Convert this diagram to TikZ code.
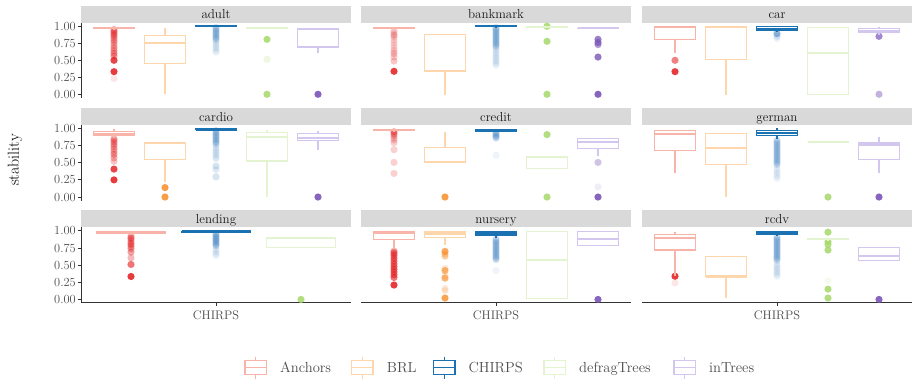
\documentclass[tikz,border=0pt]{standalone}
\usepackage{fontspec}
\definecolor{stripgray}{HTML}{D9D9D9}
\definecolor{axisgray}{HTML}{333333}
\definecolor{ticktext}{HTML}{4D4D4D}
\definecolor{ancBox}{HTML}{F9B4AA}
\definecolor{ancPt}{HTML}{E31A1C}
\definecolor{brlBox}{HTML}{FDD6AB}
\definecolor{brlPt}{HTML}{F7861A}
\definecolor{chiBox}{HTML}{1A72B2}
\definecolor{chiPt}{HTML}{3A7EC0}
\definecolor{dfBox}{HTML}{E4F4D0}
\definecolor{dfPt}{HTML}{A6D96A}
\definecolor{inBox}{HTML}{D3C7F0}
\definecolor{inPt}{HTML}{7B55B8}

% y position of value #2 in facet row #1
\newcommand\yv[2]{{26.03+102.4*#1+68.6*(1-#2)}}
% boxplot: centre x, half width, row, lower whisker, q1, median, q3, upper whisker, style
\newcommand\bx[9]{%
  \draw[#9] (#1,\yv{#3}{#4}) -- (#1,\yv{#3}{#5});
  \draw[#9] (#1,\yv{#3}{#7}) -- (#1,\yv{#3}{#8});
  \draw[#9] (#1-#2,\yv{#3}{#5}) rectangle (#1+#2,\yv{#3}{#7});
  \draw[#9,line width=2.2] (#1-#2,\yv{#3}{#6}) -- (#1+#2,\yv{#3}{#6});}
% outliers: centre x, row, colour, list of value/opacity
\newcommand\pts[4]{\foreach \v/\o in {#4}{\fill[#3,opacity=\o] (#1,\yv{#2}{\v}) circle[radius=3.6];}}
% evenly spaced run of faint outliers
\newcommand\colpts[7]{\foreach \v in {#4,#5,...,#6}{\fill[#3,opacity=#7] (#1,\yv{#2}{\v}) circle[radius=3.6];}}
% legend key
\newcommand\lkey[2]{%
  \draw[#2] (#1,356.5) -- (#1,360.7);
  \draw[#2] (#1,374.7) -- (#1,379);
  \draw[#2] (#1-10.8,360.7) rectangle (#1+10.8,374.7);
  \draw[#2] (#1-10.8,367.7) -- (#1+10.8,367.7);}

\tikzset{
  anc/.style={draw=ancBox,line width=1.1},
  brl/.style={draw=brlBox,line width=1.1},
  chi/.style={draw=chiBox,line width=1.3},
  dft/.style={draw=dfBox,line width=1.1},
  int/.style={draw=inBox,line width=1.1},
  axisline/.style={draw=axisgray,line width=0.9},
  tickline/.style={draw=axisgray,line width=0.8},
  ticklab/.style={text=ticktext,inner sep=0pt,font=\fontsize{12.4}{14}\selectfont},
  striplab/.style={text=black!90,inner sep=0pt,anchor=base,font=\fontsize{13}{15}\selectfont},
  leglab/.style={text=ticktext,inner sep=0pt,anchor=base west,font=\fontsize{14.6}{16}\selectfont},
}

\begin{document}
\begin{tikzpicture}[x=1pt,y=-1pt]
\useasboundingbox (0,0) rectangle (912,380);
\fill[white] (0,0) rectangle (912,380);

% facet strips
\foreach \xl in {81,361,642}{
  \foreach \r in {0,1,2}{
    \fill[stripgray] (\xl,{5.6+102.4*\r}) rectangle ++(270,17);
  }
}
\node[striplab] (s-adult)    at (216,18.6) {adult};
\node[striplab] (s-bankmark) at (496,18.6) {bankmark};
\node[striplab] (s-car)      at (777,18.6) {car};
\node[striplab] (s-cardio)   at (216,121.0) {cardio};
\node[striplab] (s-credit)   at (496,121.0) {credit};
\node[striplab] (s-german)   at (777,121.0) {german};
\node[striplab] (s-lending)  at (216,223.4) {lending};
\node[striplab] (s-nursery)  at (496,223.4) {nursery};
\node[striplab] (s-rcdv)     at (777,223.4) {rcdv};

% y axes on the left column
\foreach \r in {0,1,2}{
  \draw[axisline] (81,{22.6+102.4*\r}) -- (81,{98.1+102.4*\r});
  \foreach \v/\lab in {0/0.00,0.25/0.25,0.5/0.50,0.75/0.75,1/1.00}{
    \draw[tickline] (77.5,\yv{\r}{\v}) -- (81,\yv{\r}{\v});
    \node[ticklab,anchor=east] (yl\r-\lab) at (76,\yv{\r}{\v}) {\lab};
  }
}
\node[rotate=90,inner sep=0pt,font=\fontsize{16}{18}\selectfont] (ytitle) at (15,160) {stability};

% x axes on the bottom row
\foreach \xl/\xc in {81/216,361/496,642/777}{
  \draw[axisline] (\xl,302.9) -- ({\xl+270},302.9);
  \draw[tickline] (\xc,302.9) -- (\xc,306.4);
  \node[ticklab] (xl\xc) at (\xc,315.5) {CHIRPS};
}

% ---- row 0 ----
% adult
\pts{114}{0}{ancPt}{0.95/0.3,0.93/0.3,0.91/0.3,0.89/0.3,0.87/0.3,0.85/0.3,0.82/0.3,0.79/0.3,0.76/0.3,0.72/0.3,0.68/0.35,0.64/0.35,0.6/0.4,0.56/0.4,0.5/0.8,0.335/0.85,0.235/0.1}
\bx{114}{20.5}{0}{0.95}{0.958}{0.972}{0.985}{1.0}{anc}
\bx{165}{20.5}{0}{0.015}{0.452}{0.752}{0.86}{0.97}{brl}
\colpts{216}{0}{chiPt}{0.98}{0.96}{0.8}{0.2}
\colpts{216}{0}{chiPt}{0.77}{0.74}{0.62}{0.1}
\bx{216}{20.5}{0}{0.99}{0.99}{0.996}{1.0}{1.0}{chi}
\pts{267}{0}{dfPt}{0.806/0.85,0.515/0.2,0.005/0.85}
\bx{267}{20.5}{0}{0.97}{0.97}{0.977}{0.985}{0.99}{dft}
\pts{318}{0}{inPt}{0.005/0.9}
\bx{318}{20.5}{0}{0.612}{0.694}{0.962}{0.966}{0.977}{int}
% bankmark
\pts{394}{0}{ancPt}{0.937/0.15,0.91/0.15,0.88/0.15,0.864/0.2,0.84/0.15,0.8/0.15,0.76/0.15,0.72/0.15,0.68/0.15,0.64/0.2,0.597/0.25,0.55/0.2,0.49/0.25,0.34/0.85}
\bx{394}{20.5}{0}{0.965}{0.97}{0.977}{0.985}{0.99}{anc}
\bx{445}{20.5}{0}{0.0}{0.34}{0.34}{0.883}{0.883}{brl}
\colpts{496}{0}{chiPt}{0.98}{0.96}{0.7}{0.2}
\colpts{496}{0}{chiPt}{0.67}{0.64}{0.43}{0.1}
\bx{496}{20.5}{0}{0.99}{0.992}{0.996}{1.0}{1.0}{chi}
\pts{547}{0}{dfPt}{0.997/0.85,0.777/0.85,0.005/0.85}
\bx{547}{20.5}{0}{0.985}{0.985}{0.99}{0.993}{0.995}{dft}
\pts{598}{0}{inPt}{0.806/0.75,0.76/0.75,0.73/0.6,0.548/0.8,0.005/0.9}
\bx{598}{20.5}{0}{0.962}{0.962}{0.966}{0.97}{0.975}{int}
% car
\pts{675}{0}{ancPt}{0.5/0.55,0.335/0.85}
\bx{675}{20.5}{0}{0.607}{0.80}{0.988}{0.995}{0.995}{anc}
\bx{726}{20.5}{0}{0.0}{0.51}{0.985}{0.988}{0.988}{brl}
\pts{777}{0}{chiPt}{0.889/0.55,0.85/0.15,0.82/0.1}
\bx{777}{20.5}{0}{0.92}{0.937}{0.962}{0.993}{1.0}{chi}
\bx{828}{20.5}{0}{0.0}{0.0}{0.612}{0.985}{0.985}{dft}
\pts{879}{0}{inPt}{0.85/0.7,0.005/0.45}
\bx{879}{20.5}{0}{0.87}{0.913}{0.925}{0.968}{0.985}{int}

% ---- row 1 ----
% cardio
\pts{114}{1}{ancPt}{0.85/0.3,0.83/0.3,0.8/0.35,0.77/0.3,0.74/0.3,0.7/0.35,0.66/0.3,0.62/0.4,0.57/0.3,0.52/0.25,0.407/0.8,0.25/0.85}
\bx{114}{20.5}{1}{0.86}{0.903}{0.92}{0.956}{0.99}{anc}
\pts{165}{1}{brlPt}{0.138/0.8,0.0/0.8}
\bx{165}{20.5}{1}{0.22}{0.55}{0.785}{0.79}{0.79}{brl}
\colpts{216}{1}{chiPt}{0.97}{0.95}{0.75}{0.2}
\colpts{216}{1}{chiPt}{0.72}{0.68}{0.52}{0.15}
\pts{216}{1}{chiPt}{0.45/0.2,0.40/0.15,0.294/0.2}
\bx{216}{20.5}{1}{0.975}{0.98}{0.985}{0.995}{1.0}{chi}
\bx{267}{20.5}{1}{0.0}{0.525}{0.88}{0.94}{0.97}{dft}
\pts{318}{1}{inPt}{0.0/0.9}
\bx{318}{20.5}{1}{0.68}{0.83}{0.86}{0.93}{0.96}{int}
% credit
\pts{394}{1}{ancPt}{0.95/0.5,0.917/0.4,0.89/0.2,0.86/0.2,0.83/0.2,0.79/0.2,0.69/0.2,0.505/0.2,0.344/0.2}
\bx{394}{20.5}{1}{0.95}{0.965}{0.975}{0.985}{0.99}{anc}
\pts{445}{1}{brlPt}{0.0/0.8}
\bx{445}{20.5}{1}{0.505}{0.505}{0.51}{0.726}{0.95}{brl}
\colpts{496}{1}{chiPt}{0.94}{0.92}{0.84}{0.25}
\pts{496}{1}{chiPt}{0.61/0.08}
\bx{496}{20.5}{1}{0.95}{0.96}{0.97}{0.975}{0.99}{chi}
\pts{547}{1}{dfPt}{0.91/0.85,0.0/0.85}
\bx{547}{20.5}{1}{0.42}{0.42}{0.578}{0.584}{0.584}{dft}
\pts{598}{1}{inPt}{0.505/0.35,0.147/0.1,0.0/0.9}
\bx{598}{20.5}{1}{0.6}{0.71}{0.80}{0.85}{0.865}{int}
% german
\bx{675}{20.5}{1}{0.344}{0.672}{0.918}{0.975}{0.975}{anc}
\bx{726}{20.5}{1}{0.0}{0.48}{0.71}{0.922}{0.94}{brl}
\colpts{777}{1}{chiPt}{0.83}{0.81}{0.45}{0.18}
\colpts{777}{1}{chiPt}{0.42}{0.39}{0.25}{0.08}
\bx{777}{20.5}{1}{0.85}{0.897}{0.93}{0.966}{1.0}{chi}
\pts{828}{1}{dfPt}{0.0/0.85}
\bx{828}{20.5}{1}{0.8}{0.8}{0.8}{0.8}{0.8}{dft}
\pts{879}{1}{inPt}{0.0/0.9}
\bx{879}{20.5}{1}{0.344}{0.55}{0.765}{0.79}{0.87}{int}

% ---- row 2 ----
% lending (three methods only)
\pts{131}{2}{ancPt}{0.93/0.3,0.9/0.35,0.885/0.35,0.85/0.35,0.82/0.35,0.8/0.35,0.77/0.35,0.74/0.35,0.69/0.4,0.606/0.3,0.51/0.6,0.334/0.85}
\bx{131}{34.5}{2}{0.94}{0.955}{0.972}{0.99}{1.0}{anc}
\colpts{216}{2}{chiPt}{0.96}{0.94}{0.76}{0.25}
\colpts{216}{2}{chiPt}{0.73}{0.7}{0.64}{0.1}
\bx{216}{34.5}{2}{0.985}{0.985}{0.99}{0.995}{1.0}{chi}
\pts{301}{2}{dfPt}{0.0/0.85}
\bx{301}{34.5}{2}{0.755}{0.755}{0.90}{0.907}{0.91}{dft}
% nursery
\pts{394}{2}{ancPt}{0.7/0.5,0.67/0.5,0.64/0.5,0.6/0.55,0.56/0.5,0.52/0.55,0.48/0.55,0.44/0.6,0.4/0.55,0.36/0.6,0.32/0.6,0.21/0.85}
\bx{394}{20.5}{2}{0.73}{0.877}{0.966}{0.995}{1.0}{anc}
\pts{445}{2}{brlPt}{0.70/0.7,0.66/0.35,0.63/0.35,0.45/0.2,0.42/0.6,0.34/0.2,0.31/0.6,0.16/0.15,0.13/0.2,0.02/0.75}
\bx{445}{20.5}{2}{0.8}{0.907}{0.96}{0.995}{1.0}{brl}
\colpts{496}{2}{chiPt}{0.88}{0.86}{0.56}{0.2}
\pts{496}{2}{chiPt}{0.42/0.08}
\bx{496}{20.5}{2}{0.89}{0.94}{0.97}{0.995}{1.0}{chi}
\bx{547}{20.5}{2}{0.01}{0.01}{0.58}{0.99}{0.99}{dft}
\pts{598}{2}{inPt}{0.0/0.9}
\bx{598}{20.5}{2}{0.79}{0.79}{0.877}{0.99}{0.99}{int}
% rcdv
\pts{675}{2}{ancPt}{0.338/0.85,0.24/0.1}
\bx{675}{20.5}{2}{0.338}{0.72}{0.897}{0.94}{0.99}{anc}
\bx{726}{20.5}{2}{0.02}{0.334}{0.334}{0.63}{0.63}{brl}
\colpts{777}{2}{chiPt}{0.91}{0.89}{0.55}{0.2}
\colpts{777}{2}{chiPt}{0.52}{0.49}{0.32}{0.1}
\bx{777}{20.5}{2}{0.93}{0.95}{0.97}{0.99}{1.0}{chi}
\pts{828}{2}{dfPt}{0.98/0.85,0.84/0.85,0.8/0.8,0.72/0.85,0.27/0.1,0.15/0.85,0.02/0.85}
\bx{828}{20.5}{2}{0.86}{0.87}{0.877}{0.885}{0.89}{dft}
\pts{879}{2}{inPt}{0.0/0.9}
\bx{879}{20.5}{2}{0.56}{0.57}{0.63}{0.755}{0.77}{int}

% legend
\lkey{255.8}{anc}
\lkey{362.2}{brl}
\lkey{444.2}{chi}
\lkey{554.8}{dft}
\lkey{684.8}{int}
\node[leglab] (l-anc) at (280,372.7) {Anchors};
\node[leglab] (l-brl) at (386.7,372.7) {BRL};
\node[leglab] (l-chi) at (468.3,372.7) {CHIRPS};
\node[leglab] (l-dft) at (579,372.7) {defragTrees};
\node[leglab] (l-int) at (709,372.7) {inTrees};
\end{tikzpicture}
\end{document}
